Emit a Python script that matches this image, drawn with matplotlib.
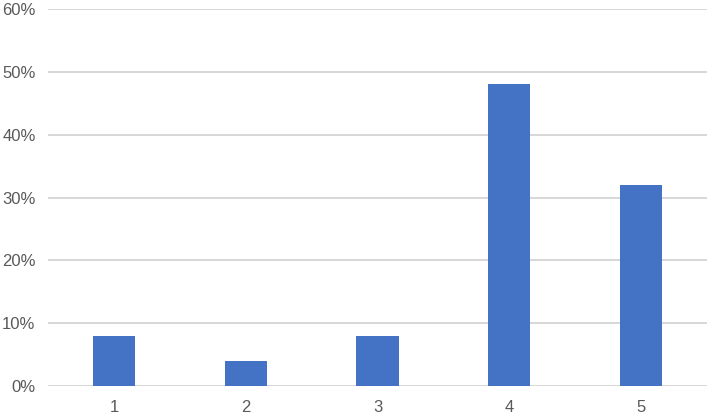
import matplotlib
matplotlib.use("Agg")
from matplotlib import pyplot as plt
from matplotlib.ticker import PercentFormatter

# data
categories = ["1", "2", "3", "4", "5"]
shares = [8, 4, 8, 48, 32]
yticks = [0, 10, 20, 30, 40, 50, 60]

plt.rcParams["font.family"] = ["Liberation Sans", "DejaVu Sans"]

fig = plt.figure(figsize=(7.09, 4.16), dpi=100)
ax = fig.add_axes([48 / 709, 30 / 416, 659 / 709, 377 / 416])

ax.bar(categories, shares, width=0.32, color="#4472C4", zorder=3)

ax.set_ylim(0, 60)
ax.set_xlim(-0.5, len(categories) - 0.5)
ax.set_yticks(yticks)
ax.yaxis.set_major_formatter(PercentFormatter(decimals=0))
ax.grid(axis="y", color="#d4d4d4", linewidth=1.3, zorder=0)

for side in ["top", "right", "left", "bottom"]:
    ax.spines[side].set_visible(False)
ax.tick_params(axis="both", length=0, labelsize=12, colors="#595959")
ax.tick_params(axis="x", pad=10)
ax.tick_params(axis="y", pad=9)

fig.savefig("out.png", dpi=100)
